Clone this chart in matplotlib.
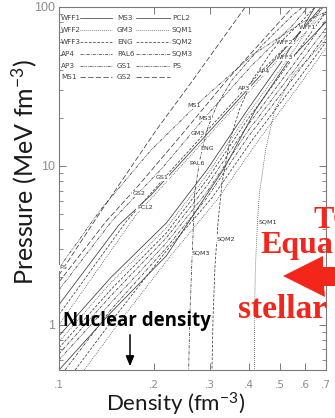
import matplotlib
matplotlib.use("Agg")
import matplotlib.pyplot as plt
from matplotlib.patches import Polygon

# ---- equation-of-state curves: baryon density n (fm^-3) vs pressure P (MeV fm^-3) ----
ms1_n = [0.100, 0.1334, 0.2031, 0.2630, 0.3887]
ms1_p = [2.06, 4.92, 16.8, 33.8, 100]
ps_n = [0.100, 0.1353, 0.1957, 0.2831, 0.4093, 0.5919, 0.700]
ps_p = [2.28, 5.29, 12.6, 26.0, 49.9, 80.5, 93.0]
gs2_n = [0.100, 0.1404, 0.1792, 0.2443, 0.3405, 0.4573, 0.5498]
gs2_p = [1.86, 4.44, 7.60, 15.7, 34.8, 66.7, 100]
gs1_n = [0.100, 0.1479, 0.2123, 0.2938, 0.4093, 0.5498, 0.6141]
gs1_p = [1.66, 4.57, 9.71, 20.9, 43.2, 77.1, 100]
pcl2_n = [0.100, 0.1547, 0.1957, 0.2831, 0.3946, 0.5498, 0.6763]
pcl2_p = [1.34, 4.25, 6.57, 14.6, 30.1, 62.0, 100]
extra1_n = [0.100, 0.1628, 0.2269, 0.3162, 0.4406, 0.5919, 0.686]
extra1_p = [1.16, 4.44, 9.44, 19.5, 40.2, 71.7, 100]
extra2_n = [0.100, 0.1753, 0.2535, 0.3532, 0.4924, 0.700]
extra2_p = [1.00, 4.92, 10.9, 22.5, 46.4, 93.0]

ms3_n = [0.100, 0.1457, 0.2187, 0.2938, 0.3946, 0.5107, 0.647]
ms3_p = [0.853, 1.98, 4.38, 9.44, 22.5, 46.4, 100]
gm3_n = [0.100, 0.1457, 0.2187, 0.2938, 0.3946, 0.5221, 0.686]
gm3_p = [0.782, 1.84, 4.07, 8.78, 20.9, 45.1, 100]
eng_n = [0.100, 0.1457, 0.2187, 0.2938, 0.3946, 0.5300, 0.700]
eng_p = [0.717, 1.66, 3.79, 8.17, 19.5, 43.2, 93.0]
pal6_n = [0.100, 0.1457, 0.2187, 0.2938, 0.3946, 0.5420, 0.700]
pal6_p = [0.657, 1.52, 3.53, 7.49, 17.9, 41.3, 82.8]
ap3_n = [0.100, 0.1457, 0.2187, 0.2938, 0.3946, 0.5498, 0.700]
ap3_p = [0.603, 1.37, 3.28, 6.86, 16.4, 39.0, 73.8]
ap4_n = [0.1045, 0.1457, 0.2187, 0.2938, 0.3946, 0.558, 0.700]
ap4_p = [0.52, 1.24, 3.05, 6.29, 15.0, 36.8, 66.7]
wff3_n = [0.1125, 0.1511, 0.2187, 0.3048, 0.4093, 0.5704, 0.700]
wff3_p = [0.52, 1.14, 2.92, 6.29, 14.6, 34.8, 60.2]
wff2_n = [0.1202, 0.1592, 0.2269, 0.3162, 0.4249, 0.5834, 0.700]
wff2_p = [0.52, 1.11, 2.76, 6.11, 14.2, 33.3, 55.3]
wff1_n = [0.100, 0.1457, 0.2187, 0.3354, 0.4185, 0.5300, 0.700]
wff1_p = [0.52, 1.19, 2.72, 9.86, 22.5, 45.1, 80.5]

sqm3_n = [0.2572, 0.2592, 0.2630, 0.2689, 0.2790, 0.2938, 0.3162, 0.3532, 0.4406, 0.5498, 0.5919]
sqm3_p = [0.50, 1.07, 2.32, 6.77, 10.9, 16.8, 24.2, 34.8, 57.7, 89.1, 100]
sqm2_n = [0.3048, 0.3071, 0.3116, 0.3186, 0.3281, 0.3479, 0.3721, 0.4093, 0.4744, 0.5919, 0.647]
sqm2_p = [0.50, 1.07, 2.32, 4.38, 7.82, 14.6, 22.5, 34.8, 53.7, 82.8, 100]
sqm1_n = [0.4154, 0.4154, 0.4185, 0.4249, 0.4312, 0.4507, 0.4815, 0.5498, 0.686, 0.700]
sqm1_p = [0.50, 1.07, 2.32, 4.44, 6.77, 12.6, 22.5, 37.4, 59.4, 63.8]

# curve tags written inside the plot: (text, density, pressure)
tag_text = ["WFF1", "WFF2", "WFF3", "AP4", "AP3", "MS1", "MS3", "GM3", "ENG", "PAL6",
            "GS1", "GS2", "PCL2", "PS", "SQM1", "SQM2", "SQM3"]
tag_n = [0.610, 0.5186, 0.5186, 0.4473, 0.3859, 0.2669, 0.2894, 0.2749, 0.2938, 0.2729,
         0.2123, 0.1792, 0.1869, 0.1030, 0.4577, 0.3379, 0.2810]
tag_p = [73.8, 59.4, 47.8, 39.0, 30.9, 23.9, 20.0, 16.1, 12.8, 10.4,
         8.40, 6.67, 5.44, 2.28, 4.44, 3.47, 2.84]

# legend entries (column by column)
legend_col1 = ["WFF1", "WFF2", "WFF3", "AP4", "AP3", "MS1"]
legend_col2 = ["MS3", "GM3", "ENG", "PAL6", "GS1", "GS2"]
legend_col3 = ["PCL2", "SQM1", "SQM2", "SQM3", "PS"]

x_ticks = [0.1, 0.2, 0.3, 0.4, 0.5, 0.6, 0.7]
x_ticklabels = [".1", ".2", ".3", ".4", ".5", ".6", ".7"]
y_ticks = [1, 10, 100]
y_ticklabels = ["1", "10", "100"]

# ---- line styles ----
SOLID = "-"
DOT = (0, (1, 1.6))
DASH = (0, (3.5, 2))
DASHDOT = (0, (4, 1.5, 1, 1.5))
DASH3DOT = (0, (4, 1.2, 1, 1.2, 1, 1.2, 1, 1.2))
LONGDASH = (0, (7, 3))

curves = [
    (wff1_n, wff1_p, SOLID), (wff2_n, wff2_p, DOT), (wff3_n, wff3_p, DASH),
    (ap4_n, ap4_p, DASHDOT), (ap3_n, ap3_p, DASH3DOT), (ms1_n, ms1_p, LONGDASH),
    (ms3_n, ms3_p, SOLID), (gm3_n, gm3_p, DOT), (eng_n, eng_p, DASH),
    (pal6_n, pal6_p, DASHDOT), (gs1_n, gs1_p, DASH3DOT), (gs2_n, gs2_p, LONGDASH),
    (pcl2_n, pcl2_p, SOLID), (sqm1_n, sqm1_p, DOT), (sqm2_n, sqm2_p, DASH),
    (sqm3_n, sqm3_p, DASHDOT), (ps_n, ps_p, DASH3DOT),
    (extra1_n, extra1_p, DASH), (extra2_n, extra2_p, DOT),
]
styles1 = [SOLID, DOT, DASH, DASHDOT, DASH3DOT, LONGDASH]

W, H = 335, 418
fig = plt.figure(figsize=(W / 100, H / 100), dpi=100)
fig.patch.set_facecolor("white")


def fx(px):
    return px / W


def fy(py):
    return 1 - py / H


ax = fig.add_axes([fx(59), fy(370), fx(326) - fx(59), fy(7) - fy(370)])
ax.set_xscale("log")
ax.set_yscale("log")
ax.set_xlim(0.1, 0.7)
ax.set_ylim(0.52, 100)

LINE_C = "#3a3a3a"
for n, p, ls in curves:
    ax.plot(n, p, color=LINE_C, lw=0.55, linestyle=ls, zorder=2)

for t, n, p in zip(tag_text, tag_n, tag_p):
    ax.text(n, p, t, fontsize=4.6, color="#333333", ha="center", va="center",
            zorder=4, bbox=dict(facecolor="white", edgecolor="none", pad=0.3))

# axes styling
GREY = "#8c8c8c"
for s in ax.spines.values():
    s.set_color("#7a7a7a")
    s.set_linewidth(0.8)
ax.set_xticks(x_ticks)
ax.set_xticklabels(x_ticklabels)
ax.xaxis.set_minor_locator(matplotlib.ticker.NullLocator())
ax.set_yticks(y_ticks)
ax.set_yticklabels(y_ticklabels)
ax.tick_params(which="both", direction="in", top=True, right=True, colors="#7a7a7a",
               labelcolor=GREY)
ax.tick_params(axis="x", which="major", length=5, width=0.7, pad=7, labelsize=7.5)
ax.tick_params(axis="y", which="major", length=5, width=0.7, pad=3, labelsize=9)
ax.tick_params(axis="y", which="minor", length=3, width=0.6)
for lab in ax.get_xticklabels():
    lab.set_fontfamily("DejaVu Sans")
for lab in ax.get_yticklabels():
    lab.set_fontfamily("Liberation Sans")

# legend drawn in axes pixels
row_y = [18, 30, 42, 54, 66, 77]


def axy(py):
    return (370 - py) / 363


def axx(px):
    return (px - 59) / 267


LEG_FS = 5.2
for i, name in enumerate(legend_col1):
    ax.text(axx(61), axy(row_y[i]), name, transform=ax.transAxes, fontsize=LEG_FS,
            color="#444444", va="center", ha="left", zorder=5)
    ax.plot([axx(80), axx(112)], [axy(row_y[i])] * 2, transform=ax.transAxes,
            color="#444444", lw=0.55, linestyle=styles1[i], zorder=5)
for i, name in enumerate(legend_col2):
    ax.text(axx(117), axy(row_y[i]), name, transform=ax.transAxes, fontsize=LEG_FS,
            color="#444444", va="center", ha="left", zorder=5)
    ax.plot([axx(136), axx(170)], [axy(row_y[i])] * 2, transform=ax.transAxes,
            color="#444444", lw=0.55, linestyle=styles1[i], zorder=5)
for i, name in enumerate(legend_col3):
    ax.text(axx(172), axy(row_y[i]), name, transform=ax.transAxes, fontsize=LEG_FS,
            color="#444444", va="center", ha="left", zorder=5)

# axis titles
plt.rcParams["mathtext.fontset"] = "custom"
plt.rcParams["mathtext.rm"] = "Lato"
plt.rcParams["mathtext.it"] = "Lato:italic"
fig.text(fx(24), fy(172), r"Pressure (MeV fm$^{\mathrm{-3}}$)", rotation=90,
         fontsize=18, family="Lato", color="#1a1a1a", ha="center", va="center")
fig.text(fx(176), fy(411), r"Density (fm$^{\mathrm{-3}}$)", fontsize=16,
         family="Lato", color="#1a1a1a", ha="center", va="baseline")

# nuclear density marker
fig.text(fx(63), fy(326), "Nuclear density", fontsize=13.5, family="Open Sans",
         weight="bold", color="black", ha="left", va="baseline")
ax.annotate("", xy=(fx(130), fy(369)), xytext=(fx(130), fy(332)),
            xycoords="figure fraction", textcoords="figure fraction",
            arrowprops=dict(arrowstyle="-|>,head_length=0.6,head_width=0.25",
                            color="black", lw=1.1), zorder=6)

# red slide annotations
RED = "#f2261a"
fig.text(fx(313), fy(228), "TO", fontsize=22, family="Liberation Serif",
         weight="bold", color=RED, ha="left", va="baseline")
fig.text(fx(260), fy(253), "Equa", fontsize=23, family="Liberation Serif",
         weight="bold", color=RED, ha="left", va="baseline")
fig.text(fx(238), fy(318), "stellar", fontsize=24, family="Liberation Serif",
         weight="bold", color=RED, ha="left", va="baseline")
arrow_px = [(283, 276), (323, 256), (323, 267), (336, 267), (336, 286), (324, 286), (325, 297)]
fig.patches.append(Polygon([(fx(x), fy(y)) for x, y in arrow_px], closed=True,
                           transform=fig.transFigure, facecolor=RED, edgecolor="none",
                           zorder=10))

fig.savefig("out.png", dpi=100)
